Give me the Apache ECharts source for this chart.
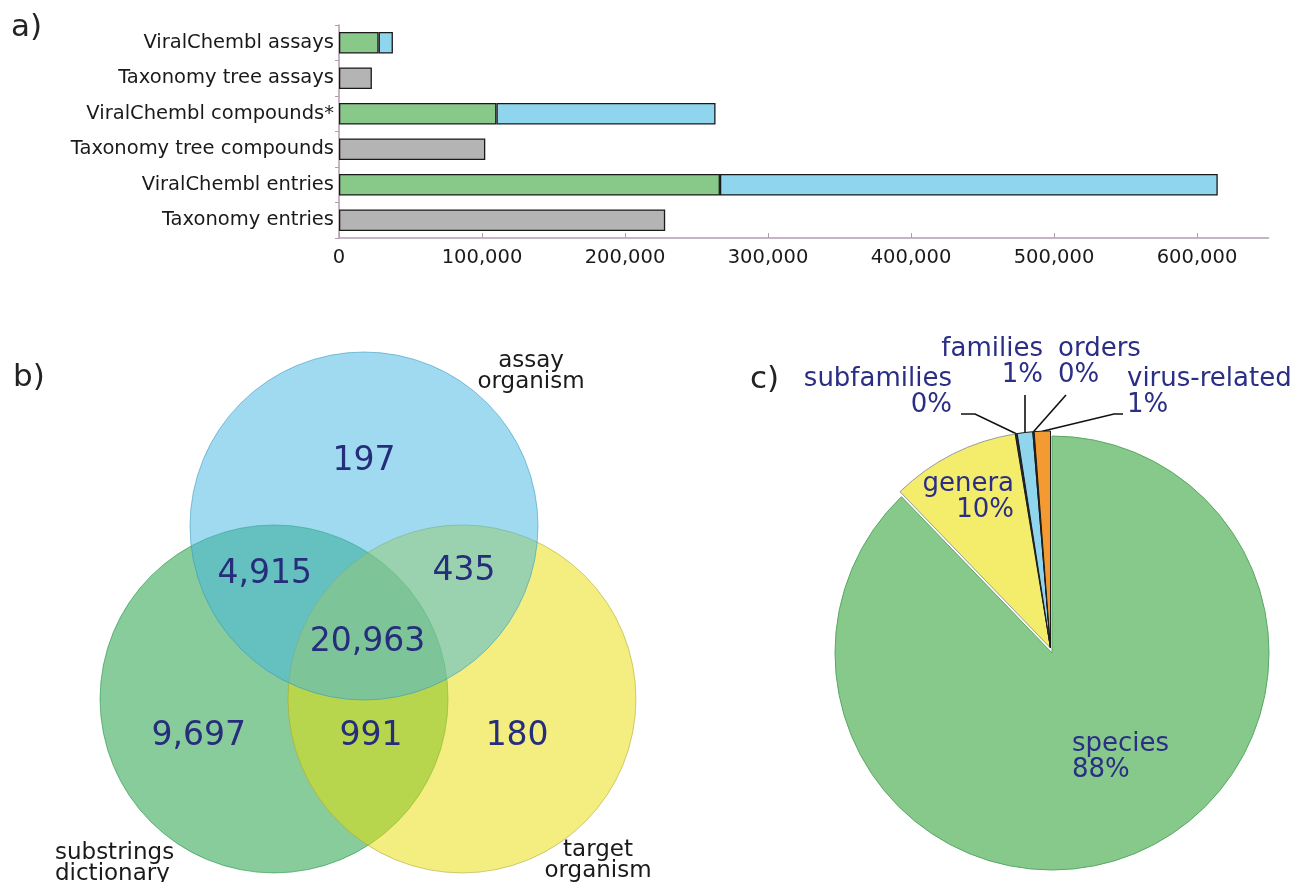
<!DOCTYPE html>
<html><head><meta charset="utf-8">
<script src="https://cdn.jsdelivr.net/npm/echarts@6.0.0/dist/echarts.min.js"></script>
<style>html,body{margin:0;padding:0;background:#fff}#c{width:1296px;height:882px}</style>
</head><body><div id="c"></div><script>
// ---------- a) bar chart data ----------
const barCategories = ['ViralChembl assays','Taxonomy tree assays','ViralChembl compounds*','Taxonomy tree compounds','ViralChembl entries','Taxonomy entries'];
const viralGreen   = [27700, null, 110100, null, 266400, null];
const viralBlue    = [10000, null, 153200, null, 348100, null];
const taxonomyGray = [null, 23000, null, 102300, null, 228100];
const xTickValues  = [0, 100000, 200000, 300000, 400000, 500000, 600000];

// ---------- b) Venn data (units of circle radius) ----------
const vennSetNames   = ['substrings\ndictionary', 'target\norganism', 'assay\norganism'];
const vennCircleX    = [-0.517, 0.563, 0.0];
const vennCircleY    = [-0.994, -0.994, 0.0];
const vennCircleR    = [1, 1, 1];
const vennCounts     = [197, 4915, 435, 20963, 9697, 991, 180];
const vennCountX     = [0.0, -0.57, 0.575, 0.02, -0.95, 0.04, 0.88];
const vennCountY     = [0.37, -0.28, -0.26, -0.67, -1.21, -1.21, -1.21];
const vennNameX      = [-1.776, 1.345, 0.96];
const vennNameY      = [-1.937, -1.92, 0.89];

// ---------- c) pie data ----------
const pieNames  = ['species', 'genera', 'subfamilies', 'families', 'orders', 'virus-related'];
const pieValues = [87.8, 9.6, 0.15, 1.15, 0.1, 1.2];

// ---------- styles / layout ----------
const FONT = 'DejaVu Sans';
const vennFill   = ['rgba(19,153,57,0.5)', 'rgba(231,221,0,0.5)', 'rgba(65,181,225,0.5)'];
const vennStroke = ['rgba(19,140,57,0.55)', 'rgba(170,165,40,0.55)', 'rgba(50,150,190,0.55)'];
const vennNameAlign = ['left', 'center', 'center'];
const pieColors  = ['#87c98a', '#f3ed6b', '#2a2a2a', '#8fd5ee', '#2a2a2a', '#f39a33'];
const pieBorders = ['#5aa866', '#9a9a9a', '#1a1a1a', '#1a1a1a', '#1a1a1a', '#1a1a1a'];
const PIE_CX = 1052, PIE_CY = 653, PIE_R = 217;
const EXPLODE_DX = -1.5, EXPLODE_DY = -5;   // offset of the pulled-out slices
const pieLabelPlace = {
  'species':       {x: 1072, y: 757, align: 'left'},
  'genera':        {x: 1014, y: 497, align: 'right'},
  'subfamilies':   {x: 952,  y: 392, align: 'right', line: [[975, 414], [961, 414]]},
  'families':      {x: 1043, y: 362, align: 'right', line: [[null, 395], [null, 395]]},
  'orders':        {x: 1058, y: 362, align: 'left',  line: [[1066, 395], [1066, 395]]},
  'virus-related': {x: 1127, y: 392, align: 'left',  line: [[1114, 414], [1123, 414]]}
};
const pieTotal = pieValues.reduce((a, b) => a + b, 0);
const pieMid = [];
(function () { let cum = 0; pieValues.forEach(v => { pieMid.push((cum + v / 2) / pieTotal * 2 * Math.PI); cum += v; }); })();

function makePie(showIdx, cx, cy) {
  return {
    type: 'pie', center: [cx, cy], radius: PIE_R, startAngle: 90, clockwise: true,
    avoidLabelOverlap: false, silent: true, emphasis: {disabled: true},
    data: pieNames.map((n, i) => {
      const vis = showIdx.indexOf(i) >= 0;
      return {
        name: n, value: pieValues[i],
        itemStyle: vis ? {color: pieColors[i], borderColor: pieBorders[i], borderWidth: 1}
                       : {color: 'rgba(0,0,0,0)', borderWidth: 0},
        label: {show: vis},
        labelLine: {show: vis && i >= 2}
      };
    }),
    label: {show: true, position: 'outside', fontSize: 26, fontFamily: FONT, color: '#2a2e85',
            formatter: p => p.name + '\n' + Math.round(p.percent) + '%'},
    labelLine: {show: true, lineStyle: {color: '#111', width: 1.6}},
    labelLayout: function (p) {
      const idx = p.dataIndex;
      const pl = pieLabelPlace[pieNames[idx]];
      const out = {x: pl.x, y: pl.y, align: pl.align, verticalAlign: 'middle'};
      if (pl.line) {
        const a = pieMid[idx];
        const sx = cx + PIE_R * Math.sin(a);
        const sy = cy - PIE_R * Math.cos(a);
        out.labelLinePoints = [[sx, sy]].concat(pl.line.map(pt => [pt[0] == null ? sx : pt[0], pt[1]]));
      }
      return out;
    }
  };
}

const chart = echarts.init(document.getElementById('c'), null, {renderer: 'canvas'});
const edge = '#1a1a1a';
const axisCol = '#b39cad';

chart.setOption({
  animation: false,
  backgroundColor: '#fff',
  textStyle: {fontFamily: FONT},
  title: [
    {text: 'a)', left: 11, top: 12, padding: 0, textStyle: {fontSize: 31, fontWeight: 'normal', color: '#222', fontFamily: FONT}},
    {text: 'b)', left: 13, top: 362, padding: 0, textStyle: {fontSize: 31, fontWeight: 'normal', color: '#222', fontFamily: FONT}},
    {text: 'c)', left: 750, top: 364, padding: 0, textStyle: {fontSize: 31, fontWeight: 'normal', color: '#222', fontFamily: FONT}}
  ],
  grid: [
    {left: 339, top: 25, width: 929.5, height: 213},
    {left: 16, top: 317.2, width: 696, height: 556.8}
  ],
  xAxis: [
    {type: 'value', gridIndex: 0, min: 0, max: 650000,
     axisLine: {show: true, lineStyle: {color: axisCol, width: 1.5}},
     axisTick: {show: true, inside: true, length: 5, lineStyle: {color: axisCol}, customValues: xTickValues},
     axisLabel: {color: '#1a1a1a', fontSize: 19.5, margin: 10, fontFamily: FONT, customValues: xTickValues,
                 formatter: v => v.toLocaleString('en-US')},
     splitLine: {show: false}},
    {type: 'value', gridIndex: 1, min: -2, max: 2, show: false}
  ],
  yAxis: [
    {type: 'category', gridIndex: 0, data: barCategories, inverse: true,
     axisLine: {show: true, lineStyle: {color: axisCol, width: 1.5}},
     axisTick: {show: true, length: 4, lineStyle: {color: axisCol}},
     axisLabel: {color: '#1a1a1a', fontSize: 19.5, margin: 5, fontFamily: FONT},
     splitLine: {show: false}},
    {type: 'value', gridIndex: 1, min: -2.0, max: 1.2, show: false}
  ],
  series: [
    {type: 'bar', name: 'ViralChembl (green)', xAxisIndex: 0, yAxisIndex: 0, stack: 'a', barWidth: '61%', data: viralGreen,
     itemStyle: {color: '#88c98a', borderColor: edge, borderWidth: 1.3}},
    {type: 'bar', name: 'ViralChembl (blue)', xAxisIndex: 0, yAxisIndex: 0, stack: 'a', barWidth: '61%', data: viralBlue,
     itemStyle: {color: '#8fd5ee', borderColor: edge, borderWidth: 1.3}},
    {type: 'bar', name: 'Taxonomy', xAxisIndex: 0, yAxisIndex: 0, stack: 'a', barWidth: '61%', data: taxonomyGray,
     itemStyle: {color: '#b4b4b4', borderColor: edge, borderWidth: 1.3}},
    // Venn circles
    {type: 'custom', xAxisIndex: 1, yAxisIndex: 1, clip: false, silent: true,
     data: vennCircleX.map((x, i) => [x, vennCircleY[i], vennCircleR[i]]),
     renderItem: function (params, api) {
       const c = api.coord([api.value(0), api.value(1)]);
       const s = api.size([api.value(2), api.value(2)]);
       return {type: 'circle', shape: {cx: c[0], cy: c[1], r: s[0]},
               style: {fill: vennFill[params.dataIndex], stroke: vennStroke[params.dataIndex], lineWidth: 1}};
     }},
    // Venn counts
    {type: 'custom', xAxisIndex: 1, yAxisIndex: 1, clip: false, z: 5, silent: true,
     data: vennCounts.map((v, i) => [vennCountX[i], vennCountY[i], v]),
     renderItem: function (params, api) {
       const c = api.coord([api.value(0), api.value(1)]);
       return {type: 'text', x: c[0], y: c[1],
               style: {text: Number(api.value(2)).toLocaleString('en-US'), fontSize: 33, fontFamily: FONT,
                       fill: '#262d7a', align: 'center', verticalAlign: 'middle'}};
     }},
    // Venn set names
    {type: 'custom', xAxisIndex: 1, yAxisIndex: 1, clip: false, z: 5, silent: true,
     data: vennNameX.map((x, i) => [x, vennNameY[i]]),
     renderItem: function (params, api) {
       const c = api.coord([api.value(0), api.value(1)]);
       return {type: 'text', x: c[0], y: c[1],
               style: {text: vennSetNames[params.dataIndex], fontSize: 23, lineHeight: 21, fontFamily: FONT,
                       fill: '#1a1a1a', align: vennNameAlign[params.dataIndex], verticalAlign: 'middle'}};
     }},
    // Pie: species slice, then the pulled-out slices
    makePie([0], PIE_CX, PIE_CY),
    makePie([1, 2, 3, 4, 5], PIE_CX + EXPLODE_DX, PIE_CY + EXPLODE_DY)
  ]
});
</script></body></html>
